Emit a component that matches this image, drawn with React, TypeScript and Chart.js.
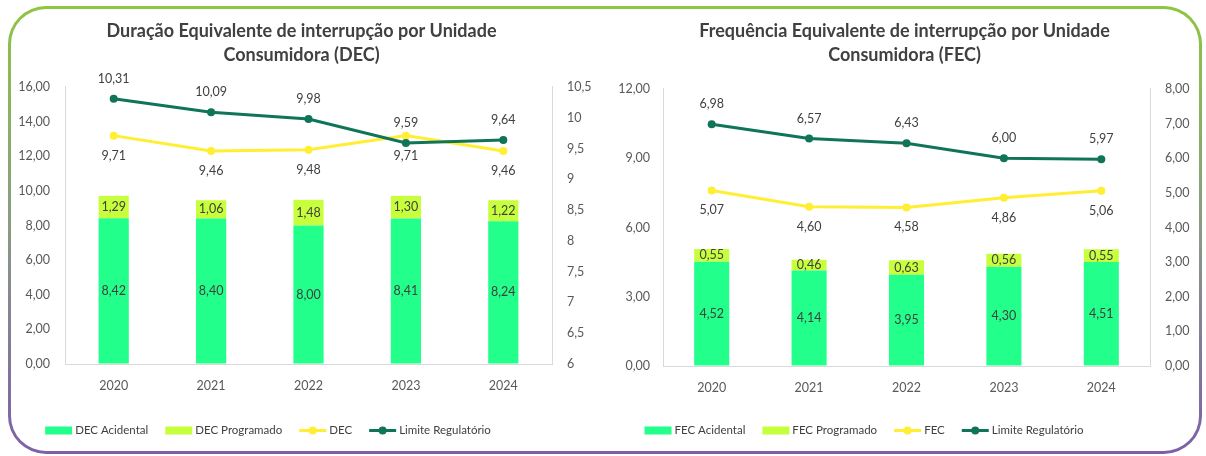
import React, { useEffect, useRef } from 'react';
import { Chart, registerables } from 'chart.js';

Chart.register(...registerables);

// ---------- data ----------
const years = ['2020', '2021', '2022', '2023', '2024'];

const decAcidental = [8.42, 8.4, 8.0, 8.41, 8.24];
const decProgramado = [1.29, 1.06, 1.48, 1.3, 1.22];
const decTotal = [9.71, 9.46, 9.48, 9.71, 9.46];
const decLimite = [10.31, 10.09, 9.98, 9.59, 9.64];

const fecAcidental = [4.52, 4.14, 3.95, 4.3, 4.51];
const fecProgramado = [0.55, 0.46, 0.63, 0.56, 0.55];
const fecTotal = [5.07, 4.6, 4.58, 4.86, 5.06];
const fecLimite = [6.98, 6.57, 6.43, 6.0, 5.97];

const decTitle = ['Duração Equivalente de interrupção por Unidade', 'Consumidora (DEC)'];
const fecTitle = ['Frequência Equivalente de interrupção por Unidade', 'Consumidora (FEC)'];

const decLabels = ['DEC Acidental', 'DEC Programado', 'DEC', 'Limite Regulatório'];
const fecLabels = ['FEC Acidental', 'FEC Programado', 'FEC', 'Limite Regulatório'];

// ---------- style ----------
const FONT = 'Lato, "Noto Sans", sans-serif';
const TEXT = '#404040';
const AXIS_TEXT = '#595959';
const AXIS_LINE = '#D9D9D9';
const COL_ACID = '#22FF8A';
const COL_PROG = '#C8FF3C';
const COL_LINE = '#FFEE33';
const COL_LIM = '#0F7458';

const fmt2 = (v: number) => Number(v).toFixed(2).replace('.', ',');
const fmtShort = (v: number) => String(Math.round(Number(v) * 10) / 10).replace('.', ',');

const dataLabelPlugin = {
  id: 'dataLabels',
  afterDatasetsDraw(chart: any) {
    const ctx = chart.ctx;
    ctx.save();
    ctx.font = `12.5px ${FONT}`;
    ctx.fillStyle = TEXT;
    ctx.textAlign = 'center';
    ctx.textBaseline = 'middle';
    chart.data.datasets.forEach((ds: any, i: number) => {
      const meta = chart.getDatasetMeta(i);
      meta.data.forEach((el: any, j: number) => {
        const v = ds.data[j];
        let y: number;
        if (meta.type === 'bar') y = (el.y + el.base) / 2;
        else y = el.y + (ds.labelOffset || 0);
        ctx.fillText(fmt2(v), el.x, y);
      });
    });
    ctx.restore();
  },
};

const legendPlugin = {
  id: 'customLegend',
  afterDraw(chart: any, _args: any, opts: any) {
    const ctx = chart.ctx;
    ctx.save();
    ctx.font = `11.5px ${FONT}`;
    const sym = 27;
    const gapText = 3;
    const gapItem = 17;
    const items = chart.data.datasets.map((ds: any) => ({
      label: ds.label,
      kind: ds.type === 'line' ? 'line' : 'bar',
      color: ds.type === 'line' ? ds.borderColor : ds.backgroundColor,
    }));
    const widths = items.map((it: any) => sym + gapText + ctx.measureText(it.label).width);
    const total = widths.reduce((a: number, b: number) => a + b, 0) + gapItem * (items.length - 1);
    let x = opts.cx - total / 2;
    const cy = opts.cy;
    items.forEach((it: any, k: number) => {
      if (it.kind === 'bar') {
        ctx.fillStyle = it.color;
        ctx.fillRect(x, cy - 4, sym, 8);
      } else {
        ctx.strokeStyle = it.color;
        ctx.lineWidth = 3;
        ctx.beginPath();
        ctx.moveTo(x, cy);
        ctx.lineTo(x + sym, cy);
        ctx.stroke();
        ctx.fillStyle = it.color;
        ctx.beginPath();
        ctx.arc(x + sym / 2, cy, 4, 0, Math.PI * 2);
        ctx.fill();
      }
      ctx.fillStyle = TEXT;
      ctx.textAlign = 'left';
      ctx.textBaseline = 'middle';
      ctx.fillText(it.label, x + sym + gapText, cy);
      x += widths[k] + gapItem;
    });
    ctx.restore();
  },
};

type Spec = {
  title: string[];
  labels: string[];
  acid: number[];
  prog: number[];
  total: number[];
  limite: number[];
  barPct: number;
  yMin: number;
  yMax: number;
  yStep: number;
  y1Min: number;
  y1Max: number;
  y1Step: number;
  y1Fmt: (v: number) => string;
  leftW: number;
  rightW: number;
  xH: number;
  leftPad: number;
  rightPad: number;
  titleTop: number;
  titleBottom: number;
  legendCx: number;
};

function makeConfig(s: Spec): any {
  const axisBase = {
    grid: { display: true, drawOnChartArea: false, drawTicks: false },
    border: { display: true, color: AXIS_LINE, width: 1 },
  };
  const tickFont = { family: FONT, size: 12.5 };
  return {
    type: 'bar',
    data: {
      labels: years,
      datasets: [
        {
          type: 'bar',
          label: s.labels[0],
          data: s.acid,
          backgroundColor: COL_ACID,
          yAxisID: 'y',
          stack: 's',
          order: 2,
          barPercentage: s.barPct,
          categoryPercentage: 1,
        },
        {
          type: 'bar',
          label: s.labels[1],
          data: s.prog,
          backgroundColor: COL_PROG,
          yAxisID: 'y',
          stack: 's',
          order: 3,
          barPercentage: s.barPct,
          categoryPercentage: 1,
        },
        {
          type: 'line',
          label: s.labels[2],
          data: s.total,
          borderColor: COL_LINE,
          backgroundColor: COL_LINE,
          pointBackgroundColor: COL_LINE,
          pointBorderColor: COL_LINE,
          borderWidth: 3,
          pointRadius: 4,
          pointBorderWidth: 0,
          tension: 0,
          yAxisID: 'y1',
          order: 1,
          labelOffset: 20,
        },
        {
          type: 'line',
          label: s.labels[3],
          data: s.limite,
          borderColor: COL_LIM,
          backgroundColor: COL_LIM,
          pointBackgroundColor: COL_LIM,
          pointBorderColor: COL_LIM,
          borderWidth: 3,
          pointRadius: 4,
          pointBorderWidth: 0,
          tension: 0,
          yAxisID: 'y1',
          order: 0,
          labelOffset: -20,
        },
      ],
    },
    options: {
      responsive: false,
      animation: false,
      layout: { padding: 0 },
      plugins: {
        legend: { display: false },
        tooltip: { enabled: false },
        title: {
          display: true,
          text: s.title,
          color: TEXT,
          font: { family: FONT, size: 18, weight: 'bold', lineHeight: 1.3333 },
          padding: { top: s.titleTop, bottom: s.titleBottom },
        },
        customLegend: { cx: s.legendCx, cy: 430.5 },
      },
      scales: {
        x: {
          ...axisBase,
          stacked: true,
          ticks: { color: AXIS_TEXT, font: tickFont, padding: 14 },
          afterFit: (sc: any) => {
            sc.height = s.xH;
          },
        },
        y: {
          ...axisBase,
          position: 'left',
          stacked: true,
          min: s.yMin,
          max: s.yMax,
          ticks: { stepSize: s.yStep, color: AXIS_TEXT, font: tickFont, padding: s.leftPad, callback: (v: any) => fmt2(v) },
          afterFit: (sc: any) => {
            sc.width = s.leftW;
          },
        },
        y1: {
          ...axisBase,
          position: 'right',
          stacked: false,
          min: s.y1Min,
          max: s.y1Max,
          ticks: { stepSize: s.y1Step, color: AXIS_TEXT, font: tickFont, padding: s.rightPad, callback: (v: any) => s.y1Fmt(v) },
          afterFit: (sc: any) => {
            sc.width = s.rightW;
          },
        },
      },
    },
    plugins: [dataLabelPlugin, legendPlugin],
  };
}

const decSpec: Spec = {
  title: decTitle,
  labels: decLabels,
  acid: decAcidental,
  prog: decProgramado,
  total: decTotal,
  limite: decLimite,
  barPct: 0.31,
  yMin: 0,
  yMax: 16,
  yStep: 2,
  y1Min: 6,
  y1Max: 10.5,
  y1Step: 0.5,
  y1Fmt: fmtShort,
  leftW: 65,
  rightW: 51,
  xH: 92,
  leftPad: 15,
  rightPad: 15,
  titleTop: 19,
  titleBottom: 20,
  legendCx: 268,
};

const fecSpec: Spec = {
  title: fecTitle,
  labels: fecLabels,
  acid: fecAcidental,
  prog: fecProgramado,
  total: fecTotal,
  limite: fecLimite,
  barPct: 0.36,
  yMin: 0,
  yMax: 12,
  yStep: 3,
  y1Min: 0,
  y1Max: 8,
  y1Step: 1,
  y1Fmt: fmt2,
  leftW: 60,
  rightW: 56,
  xH: 90,
  leftPad: 13,
  rightPad: 15,
  titleTop: 19,
  titleBottom: 22,
  legendCx: 261,
};

function ChartPanel({ spec, left, width }: { spec: Spec; left: number; width: number }) {
  const ref = useRef<HTMLCanvasElement | null>(null);
  useEffect(() => {
    if (!ref.current) return;
    const c = new Chart(ref.current, makeConfig(spec));
    return () => c.destroy();
  }, [spec]);
  return (
    <canvas
      ref={ref}
      width={width}
      height={456}
      style={{ position: 'absolute', left, top: 0, width, height: 456 }}
    />
  );
}

export default function App() {
  return (
    <div style={{ position: 'absolute', left: 0, top: 0, width: 1206, height: 456, background: '#ffffff', overflow: 'hidden' }}>
      <div
        style={{
          position: 'absolute',
          left: 8,
          top: 6,
          width: 1194,
          height: 448,
          boxSizing: 'border-box',
          borderRadius: 38,
          padding: 3,
          background: 'linear-gradient(180deg, #8DC63F 0%, #8A9A86 50%, #7D5FA8 100%)',
        }}
      >
        <div style={{ width: '100%', height: '100%', borderRadius: 35, background: '#ffffff' }} />
      </div>
      <ChartPanel spec={decSpec} left={0} width={603} />
      <ChartPanel spec={fecSpec} left={603} width={603} />
    </div>
  );
}
